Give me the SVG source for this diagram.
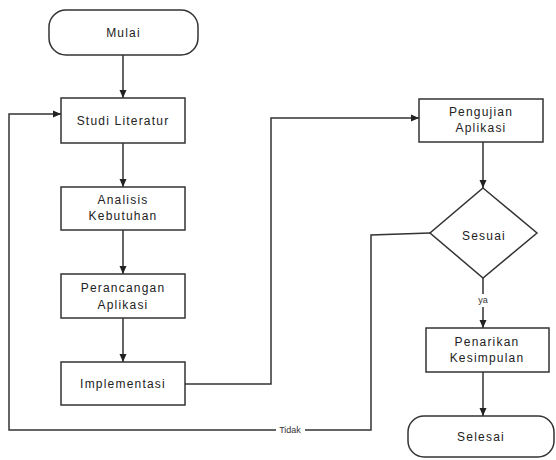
<svg xmlns="http://www.w3.org/2000/svg" width="556" height="460" viewBox="0 0 556 460">
<defs>
<marker id="ah" markerUnits="userSpaceOnUse" markerWidth="8" markerHeight="8" refX="8" refY="4" orient="auto">
<path d="M0,0.5 L8,4 L0,7.5 z" fill="#222"/>
</marker>
<style>
.n{fill:#fff;stroke:#333;stroke-width:1.5}
.t{font-family:"Liberation Sans",Arial,sans-serif;font-size:12px;letter-spacing:1.2px;fill:#222;text-anchor:middle;dominant-baseline:central}
.s{font-family:"Liberation Sans",Arial,sans-serif;font-size:9px;fill:#333;text-anchor:middle;dominant-baseline:central}
.c{fill:none;stroke:#333;stroke-width:1.5}
.a{marker-end:url(#ah)}
</style>
</defs>
<rect width="556" height="460" fill="#fff"/>
<g id="connectors">
<line class="c a" x1="123" y1="55" x2="123" y2="98"/>
<line class="c a" x1="123" y1="143" x2="123" y2="187"/>
<line class="c a" x1="123" y1="230" x2="123" y2="274"/>
<line class="c a" x1="123" y1="318" x2="123" y2="362"/>
<polyline class="c a" points="185,384 271,384 271,118 419,118"/>
<line class="c a" x1="483" y1="142" x2="483" y2="188"/>
<line class="c a" x1="483" y1="278" x2="483" y2="328"/>
<line class="c a" x1="483" y1="372" x2="483" y2="416"/>
<polyline class="c a" points="430,233 371,235 371,430 9,430 9,114 61,114"/>
<rect x="276" y="423" width="29" height="14" fill="#fff"/>
<text class="s" x="290" y="430">Tidak</text>
<rect x="477" y="294" width="13" height="13" fill="#fff"/>
<text class="s" x="483" y="300">ya</text>
</g>
<g id="mulai"><rect class="n" x="49" y="10" width="149" height="45" rx="17"/><text class="t" x="123.5" y="33">Mulai</text></g>
<g id="studi"><rect class="n" x="61" y="98" width="124" height="45"/><text class="t" x="123" y="121">Studi Literatur</text></g>
<g id="analisis"><rect class="n" x="61" y="187" width="124" height="43"/><text class="t" x="123" y="200">Analisis</text><text class="t" x="123" y="216">Kebutuhan</text></g>
<g id="perancangan"><rect class="n" x="61" y="274" width="124" height="44"/><text class="t" x="123" y="288">Perancangan</text><text class="t" x="123" y="305">Aplikasi</text></g>
<g id="implementasi"><rect class="n" x="61" y="362" width="124" height="43"/><text class="t" x="123" y="384">Implementasi</text></g>
<g id="pengujian"><rect class="n" x="419" y="99" width="124" height="43"/><text class="t" x="481" y="112">Pengujian</text><text class="t" x="481" y="128">Aplikasi</text></g>
<g id="sesuai"><polygon class="n" points="483,188 537,233 483,278 430,233"/><text class="t" x="484" y="236">Sesuai</text></g>
<g id="penarikan"><rect class="n" x="426" y="328" width="123" height="44"/><text class="t" x="487" y="342">Penarikan</text><text class="t" x="487" y="358">Kesimpulan</text></g>
<g id="selesai"><rect class="n" x="408" y="416" width="146" height="41" rx="16"/><text class="t" x="481" y="437">Selesai</text></g>
</svg>
